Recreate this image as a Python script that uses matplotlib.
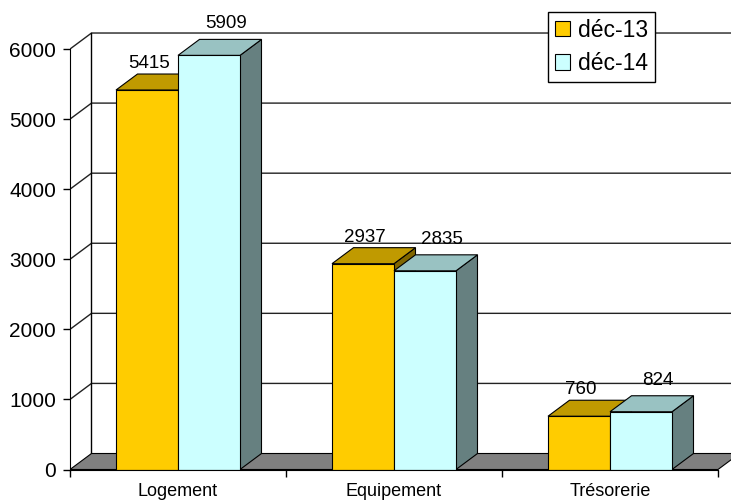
import matplotlib.pyplot as plt
from matplotlib.patches import Polygon, Patch

plt.rcParams['font.family'] = ['Liberation Sans', 'DejaVu Sans']

# data
categories = ['Logement', 'Equipement', 'Trésorerie']
series = ['déc-13', 'déc-14']
dec13 = [5415, 2937, 760]
dec14 = [5909, 2835, 824]
yticks = [0, 1000, 2000, 3000, 4000, 5000, 6000]

# colours: front, top, side faces
face = ['#FFCC00', '#CCFFFF']
top = ['#C09A00', '#99C2C2']
side = ['#806600', '#668080']

# pixel -> data helpers (216 px per category, 70.08 px per 1000)
PX_X = 1 / 216
PX_Y = 1000 / 70.08
dx = 21.5 * PX_X       # depth offset of the 3D effect
dy = 16 * PX_Y
w = 62 * PX_X          # bar width

fig = plt.figure(figsize=(7.31, 5.0), dpi=100)
ax = fig.add_axes([70 / 731, 30.5 / 500, 661 / 731, 469.5 / 500])
ax.set_facecolor('none')

x0, x1 = -0.5, len(categories) - 0.5
xend = x1 + dx + 0.3

# back wall gridlines + left wall diagonals
for v in yticks[1:]:
    ax.plot([x0, x0 + dx, xend], [v, v + dy, v + dy], color='#222222', lw=1, zorder=1)
ax.plot([x0 + dx, x0 + dx], [dy, yticks[-1] + dy], color='black', lw=1, zorder=1)

# floor
ax.add_patch(Polygon([(x0, 0), (x1, 0), (x1 + dx, dy), (x0 + dx, dy)],
                     closed=True, fc='#808080', ec='black', lw=0.8, zorder=2))

# bars
label_dx = [0.01, 0.08]
label_dy = [6 * PX_Y, 11 * PX_Y]
for i in range(len(categories)):
    for j, vals in enumerate([dec13, dec14]):
        left = i - w + j * w
        h = vals[i]
        ax.add_patch(Polygon([(left + w, 0), (left + w + dx, dy), (left + w + dx, h + dy), (left + w, h)],
                             closed=True, fc=side[j], ec='black', lw=0.8, zorder=3))
        ax.add_patch(Polygon([(left, h), (left + w, h), (left + w + dx, h + dy), (left + dx, h + dy)],
                             closed=True, fc=top[j], ec='black', lw=0.8, zorder=3))
        ax.bar(left, h, width=w, align='edge', color=face[j], edgecolor='black', lw=0.8, zorder=3)
        ax.text(left + w / 2 + label_dx[j], h + dy + label_dy[j], str(h),
                ha='center', va='baseline', fontsize=13.5, zorder=5)

ax.set_xlim(x0, x0 + 661 / 216)
ax.set_ylim(0, 469.5 * PX_Y)

# axes
for s in ['top', 'right']:
    ax.spines[s].set_visible(False)
ax.spines['left'].set_bounds(0, yticks[-1])
ax.spines['bottom'].set_bounds(x0, x1)
ax.spines['left'].set_zorder(4)
ax.spines['bottom'].set_zorder(4)

ax.set_yticks(yticks)
ax.set_yticklabels([str(v) for v in yticks])
ax.tick_params(axis='y', direction='out', length=5, width=1, pad=5, labelsize=15)

ax.set_xticks([x0 + k for k in range(len(categories) + 1)])
ax.set_xticklabels([])
ax.set_xticks(range(len(categories)), minor=True)
ax.set_xticklabels(categories, minor=True)
ax.tick_params(axis='x', which='major', direction='out', length=5, width=1)
ax.tick_params(axis='x', which='minor', length=0, pad=10, labelsize=13)

handles = [Patch(fc=face[j], ec='black', lw=0.8) for j in range(len(series))]
fig.legend(handles, series, loc='upper left', bbox_to_anchor=(548 / 731, 1 - 12 / 500),
           fontsize=16.5, frameon=True, fancybox=False, framealpha=1, edgecolor='black',
           borderaxespad=0, borderpad=0.3, handlelength=0.65, handleheight=0.65,
           handletextpad=0.35, labelspacing=0.45)

fig.savefig('out.png', dpi=100)
